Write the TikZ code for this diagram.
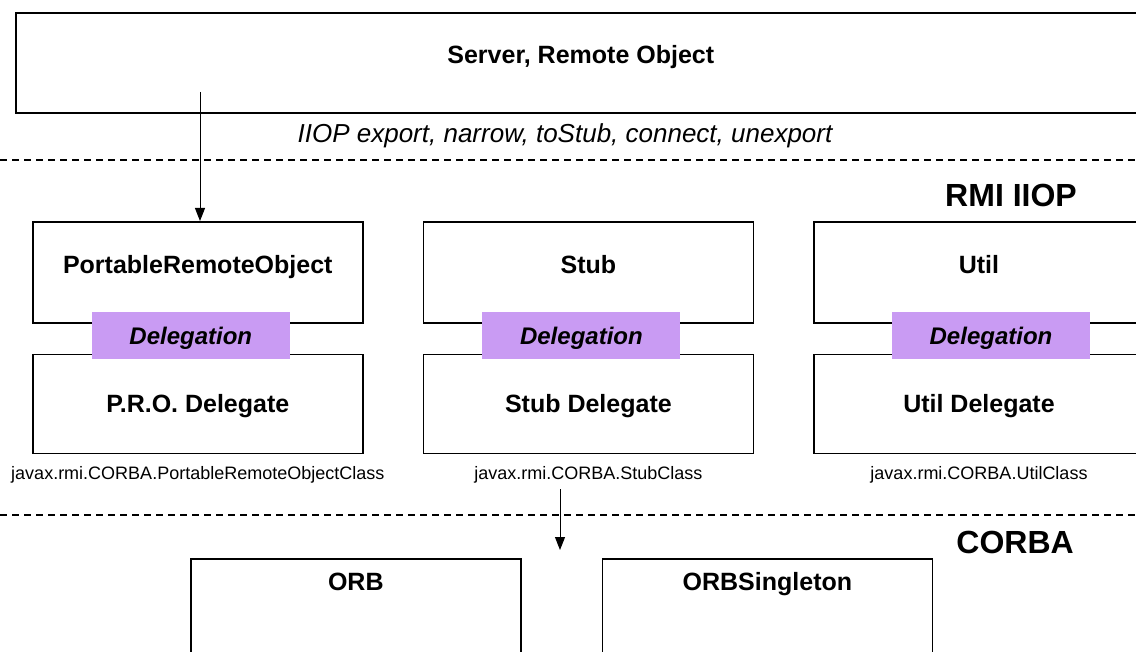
\documentclass[tikz,border=0pt]{standalone}
\usepackage{fontspec}
\setmainfont{Liberation Sans}
\usetikzlibrary{positioning,arrows.meta}
\definecolor{delegpurple}{RGB}{201,155,243}
\begin{document}
\begin{tikzpicture}[x=1pt,y=-1pt,srvbox/.style={rectangle, draw=black, line width=1.6pt, inner sep=0pt, minimum width=1130pt, text height=51pt, text depth=49pt, font=\fontsize{25}{30}\selectfont\bfseries},rmibox/.style={rectangle, draw=black, line width=1.6pt, inner sep=0pt, minimum width=330pt, text height=52pt, text depth=49pt, font=\fontsize{25}{30}\selectfont\bfseries},dlgbox/.style={rmibox, text height=58pt, text depth=41pt},orbbox/.style={rmibox, text height=32pt, text depth=90pt},deleg/.style={rectangle, fill=delegpurple, inner sep=0pt, minimum width=198pt, minimum height=47pt, text height=18pt, text depth=0pt, font=\fontsize{24}{28}\selectfont\bfseries\itshape},cls/.style={inner sep=0pt, font=\fontsize{18}{20}\selectfont},layer/.style={inner sep=0pt, font=\fontsize{32}{36}\selectfont\bfseries},iface/.style={inner sep=0pt, font=\fontsize{26}{30}\selectfont\itshape},sep/.style={line width=1.4pt, dash pattern=on 7pt off 5pt},flow/.style={line width=1pt, -{Triangle[width=10pt,length=13pt]}}]
                    \clip (0,0) rectangle (1136,652);
                    \node[srvbox, anchor=north west] (server) at (15,12) {Server, Remote Object};
                    \node[iface, anchor=base] (ops) at (565,143) {IIOP export, narrow, toStub, connect, unexport};
                    \node[layer, anchor=base east] (rmiiiop) at (1077,207) {RMI IIOP};
                    \node[rmibox, anchor=north west] (pro) at (32,221) {PortableRemoteObject};
                    \node[rmibox, right=59pt of pro] (stub) {Stub};
                    \node[rmibox, right=59pt of stub] (util) {Util};
                    \node[dlgbox, below=30pt of pro] (prodlg) {P.R.O. Delegate};
                    \node[dlgbox, below=30pt of stub] (stubdlg) {Stub Delegate};
                    \node[dlgbox, below=30pt of util] (utildlg) {Util Delegate};
                    \node[deleg, xshift=-7pt, yshift=-11.5pt] (prodeleg) at (pro.south) {Delegation};
                    \node[deleg, xshift=-7pt, yshift=-11.5pt] (stubdeleg) at (stub.south) {Delegation};
                    \node[deleg, xshift=12pt, yshift=-11.5pt] (utildeleg) at (util.south) {Delegation};
                    \node[cls, below=12pt of prodlg] (procls) {javax.rmi.CORBA.PortableRemoteObjectClass};
                    \node[cls, below=12pt of stubdlg] (stubcls) {javax.rmi.CORBA.StubClass};
                    \node[cls, below=12pt of utildlg] (utilcls) {javax.rmi.CORBA.UtilClass};
                    \node[layer, anchor=base east] (corba) at (1074,553) {CORBA};
                    \node[orbbox, anchor=north west] (orb) at (190,558) {ORB};
                    \node[orbbox, right=80pt of orb] (orbsgl) {ORBSingleton};
                    \coordinate (expstart) at (200,92);
                    \coordinate (stubcall) at (560,489);
                    \coordinate (orbcall) at (560,550);
                    \draw[sep] (0,160) -- (1136,160);
                    \draw[sep] (0,515) -- (1136,515);
                    \draw[flow] (expstart) -- (expstart |- pro.north);
                    \draw[flow] (stubcall) -- (orbcall);
                \end{tikzpicture}
\end{document}
